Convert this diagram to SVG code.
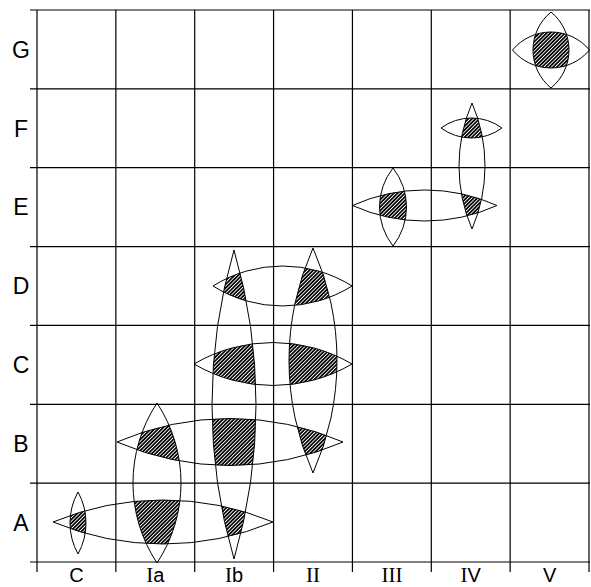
<svg xmlns="http://www.w3.org/2000/svg" xmlns:xlink="http://www.w3.org/1999/xlink" width="591" height="587" viewBox="0 0 591 587">
<style>
.grid{stroke:#000;stroke-width:1.2;fill:none}
.lens{stroke:#000;stroke-width:1;fill:none}
.rl{font-family:"Liberation Sans",Arial,sans-serif;font-size:23px;fill:#000;text-anchor:middle}
.cl{font-family:"Liberation Sans",Arial,sans-serif;font-size:20px;fill:#000;text-anchor:middle}
.s{font-family:"Liberation Serif","Times New Roman",serif;font-size:21px}
</style>
<defs>
<pattern id="hatch" patternUnits="userSpaceOnUse" width="2.6" height="10" patternTransform="rotate(45)">
<rect width="2.6" height="10" fill="#000"/>
<rect x="0" width="0.9" height="10" fill="#fff"/>
</pattern>
<path id="hA" d="M53,522 A286,286 0 0 1 273,522 A286,286 0 0 1 53,522Z"/>
<path id="hB" d="M117,442 A283.4,283.4 0 0 1 343,442 A283.4,283.4 0 0 1 117,442Z"/>
<path id="hC" d="M194,364 A155.9,155.9 0 0 1 352,364 A155.9,155.9 0 0 1 194,364Z"/>
<path id="hD" d="M213,286 A130.8,130.8 0 0 1 352,286 A130.8,130.8 0 0 1 213,286Z"/>
<path id="hE" d="M352.5,205.5 A176.1,176.1 0 0 1 497,205.5 A176.1,176.1 0 0 1 352.5,205.5Z"/>
<path id="hF" d="M441,128 A51.5,51.5 0 0 1 502,128 A51.5,51.5 0 0 1 441,128Z"/>
<path id="hG" d="M512.5,50 A50.2,50.2 0 0 1 589.5,50 A50.2,50.2 0 0 1 512.5,50Z"/>
<path id="vC" d="M78,492 A64.1,64.1 0 0 1 78,554 A64.1,64.1 0 0 1 78,492Z"/>
<path id="vIa" d="M157,403 A145.3,145.3 0 0 1 157,563 A145.3,145.3 0 0 1 157,403Z"/>
<path id="vIb" d="M234,250 A553.5,553.5 0 0 1 234,559 A553.5,553.5 0 0 1 234,250Z"/>
<path id="vII" d="M313,248 A275.7,275.7 0 0 1 313,473 A275.7,275.7 0 0 1 313,248Z"/>
<path id="vIII" d="M393,168 A63.1,63.1 0 0 1 393,246 A63.1,63.1 0 0 1 393,168Z"/>
<path id="vIV" d="M472,103 A159.2,159.2 0 0 1 472,229 A159.2,159.2 0 0 1 472,103Z"/>
<path id="vV" d="M551,12 A49.1,49.1 0 0 1 551,88 A49.1,49.1 0 0 1 551,12Z"/>
<clipPath id="cC"><use xlink:href="#vC"/></clipPath>
<clipPath id="cIa"><use xlink:href="#vIa"/></clipPath>
<clipPath id="cIb"><use xlink:href="#vIb"/></clipPath>
<clipPath id="cII"><use xlink:href="#vII"/></clipPath>
<clipPath id="cIII"><use xlink:href="#vIII"/></clipPath>
<clipPath id="cIV"><use xlink:href="#vIV"/></clipPath>
<clipPath id="cV"><use xlink:href="#vV"/></clipPath>
</defs>
<g id="grid" class="grid">
<path d="M30,10H590M30,88.86H590M30,167.71H590M30,246.57H590M30,325.43H590M30,404.29H590M30,483.14H590M30,562H590"/>
<path d="M37,10V572M115.86,10V572M194.71,10V572M273.57,10V572M352.43,10V572M431.29,10V572M510.14,10V572M589,10V572"/>
</g>
<g id="row-labels" class="rl">
<text x="21" y="57.6">G</text>
<text x="21" y="136.5">F</text>
<text x="21" y="215.3">E</text>
<text x="21" y="294.2">D</text>
<text x="21" y="373">C</text>
<text x="21" y="451.9">B</text>
<text x="21" y="530.8">A</text>
</g>
<g id="col-labels" class="cl">
<text x="76.4" y="582">C</text>
<text x="155.3" y="582"><tspan class="s">I</tspan>a</text>
<text x="234.1" y="582"><tspan class="s">I</tspan>b</text>
<text x="313" y="582" class="s">II</text>
<text x="391.9" y="582" class="s">III</text>
<text x="470.7" y="582"><tspan class="s">I</tspan>V</text>
<text x="549.6" y="582">V</text>
</g>
<g id="overlaps" fill="url(#hatch)">
<use xlink:href="#hA" clip-path="url(#cC)"/>
<use xlink:href="#hA" clip-path="url(#cIa)"/>
<use xlink:href="#hA" clip-path="url(#cIb)"/>
<use xlink:href="#hB" clip-path="url(#cIa)"/>
<use xlink:href="#hB" clip-path="url(#cIb)"/>
<use xlink:href="#hB" clip-path="url(#cII)"/>
<use xlink:href="#hC" clip-path="url(#cIb)"/>
<use xlink:href="#hC" clip-path="url(#cII)"/>
<use xlink:href="#hD" clip-path="url(#cIb)"/>
<use xlink:href="#hD" clip-path="url(#cII)"/>
<use xlink:href="#hE" clip-path="url(#cIII)"/>
<use xlink:href="#hE" clip-path="url(#cIV)"/>
<use xlink:href="#hF" clip-path="url(#cIV)"/>
<use xlink:href="#hG" clip-path="url(#cV)"/>
</g>
<g id="lenses" class="lens">
<use id="lens-A" xlink:href="#hA"/>
<use id="lens-B" xlink:href="#hB"/>
<use id="lens-C" xlink:href="#hC"/>
<use id="lens-D" xlink:href="#hD"/>
<use id="lens-E" xlink:href="#hE"/>
<use id="lens-F" xlink:href="#hF"/>
<use id="lens-G" xlink:href="#hG"/>
<use id="lens-col-C" xlink:href="#vC"/>
<use id="lens-col-Ia" xlink:href="#vIa"/>
<use id="lens-col-Ib" xlink:href="#vIb"/>
<use id="lens-col-II" xlink:href="#vII"/>
<use id="lens-col-III" xlink:href="#vIII"/>
<use id="lens-col-IV" xlink:href="#vIV"/>
<use id="lens-col-V" xlink:href="#vV"/>
</g>
</svg>
